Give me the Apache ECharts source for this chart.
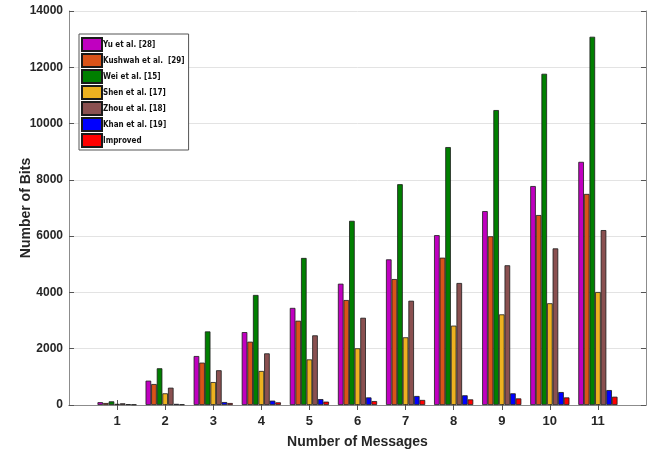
<!DOCTYPE html>
<html>
<head>
<meta charset="utf-8">
<script src="https://cdn.jsdelivr.net/npm/echarts@6/dist/echarts.min.js"></script>
<style>html,body{margin:0;padding:0;background:#fff}#c{width:656px;height:457px}</style>
</head>
<body>
<div id="c"></div>
<script>
const categories = ['1','2','3','4','5','6','7','8','9','10','11'];
const yTicks = [0, 2000, 4000, 6000, 8000, 10000, 12000, 14000];
const seriesNames = ['Yu et al. [28]', 'Kushwah et al.  [29]', 'Wei et al. [15]', 'Shen et al. [17]', 'Zhou et al. [18]', 'Khan et al. [19]', 'Improved'];
const yu       = [100, 865, 1740, 2590, 3450, 4310, 5175, 6035, 6890, 7780, 8640];
const kushwah  = [70, 745, 1505, 2250, 2995, 3730, 4475, 5235, 5995, 6750, 7500];
const wei      = [130, 1305, 2615, 3910, 5225, 6545, 7845, 9165, 10480, 11770, 13085];
const shen     = [40, 415, 815, 1210, 1620, 2015, 2405, 2820, 3220, 3615, 4015];
const zhou     = [60, 615, 1235, 1835, 2475, 3100, 3705, 4335, 4965, 5565, 6215];
const khan     = [30, 40, 105, 155, 210, 270, 320, 345, 415, 460, 530];
const improved = [20, 25, 70, 95, 120, 140, 180, 200, 235, 270, 295];

const colors = ['#c000c0', '#d95319', '#007f00', '#edb120', '#8a5050', '#0000ff', '#ff0000'];
const allData = [yu, kushwah, wei, shen, zhou, khan, improved];

const axisCats = [''].concat(categories, ['']);
const pad = arr => [null].concat(arr, [null]);
const font = '"Liberation Sans", Arial, sans-serif';
const condFont = '"DejaVu Sans Condensed", "Liberation Sans", Arial, sans-serif';

const chart = echarts.init(document.getElementById('c'));
const axisLineStyle = {color: '#8c8c8c', width: 1};
chart.setOption({
  animation: false,
  grid: {left: 69, right: 10, top: 11, bottom: 52, containLabel: false, outerBoundsMode: 'none'},
  legend: {
    orient: 'vertical', left: 79, top: 34,
    icon: 'rect',
    itemWidth: 20, itemHeight: 13, itemGap: 1,
    padding: [3, 4, 2, 2],
    borderColor: '#555', borderWidth: 1, backgroundColor: '#fff',
    textStyle: {fontFamily: condFont, fontSize: 8, fontWeight: 'bold', color: '#111', padding: [0,0,0,-4]},
    data: seriesNames
  },
  xAxis: [{
    type: 'category', data: axisCats, boundaryGap: false, position: 'bottom',
    axisLine: {lineStyle: axisLineStyle},
    axisTick: {inside: true, length: 5, lineStyle: {color: '#555'}, interval: i => i > 0 && i < axisCats.length - 1},
    axisLabel: {fontFamily: font, fontSize: 13, fontWeight: 'bold', color: '#262626', margin: 10,
      interval: i => i > 0 && i < axisCats.length - 1},
    name: 'Number of Messages', nameLocation: 'middle', nameGap: 30, nameMoveOverlap: false,
    nameTextStyle: {fontFamily: font, fontSize: 14, fontWeight: 'bold', color: '#262626'},
    splitLine: {show: false}
  }, {
    type: 'category', data: axisCats, boundaryGap: false, position: 'top',
    axisLine: {lineStyle: axisLineStyle},
    axisTick: {inside: true, length: 5, lineStyle: {color: '#555'}, interval: i => i > 0 && i < axisCats.length - 1},
    axisLabel: {show: false}, splitLine: {show: false}
  }],
  yAxis: [{
    type: 'value', min: 0, max: 14000, interval: 2000, position: 'left',
    axisLine: {show: true, lineStyle: axisLineStyle},
    axisTick: {show: true, inside: true, length: 5, lineStyle: {color: '#555'}},
    axisLabel: {fontFamily: font, fontSize: 12, fontWeight: 'bold', color: '#262626', margin: 6,
      formatter: v => yTicks.indexOf(v) >= 0 ? String(v) : ''},
    splitLine: {show: true, lineStyle: {color: '#e3e3e3', width: 1}},
    name: 'Number of Bits', nameLocation: 'middle', nameGap: 36, nameMoveOverlap: false,
    nameTextStyle: {fontFamily: font, fontSize: 14, fontWeight: 'bold', color: '#262626'}
  }, {
    type: 'value', min: 0, max: 14000, interval: 2000, position: 'right',
    axisLine: {show: true, lineStyle: axisLineStyle},
    axisTick: {show: true, inside: true, length: 5, lineStyle: {color: '#555'}},
    axisLabel: {show: false}, splitLine: {show: false}
  }],
  series: seriesNames.map((n, i) => ({
    name: n, type: 'bar', xAxisIndex: 0, yAxisIndex: 0,
    data: pad(allData[i]),
    barWidth: 5.6, barGap: '0%',
    itemStyle: {color: colors[i], borderColor: '#1a1a1a', borderWidth: 0.8}
  }))
});
</script>
</body>
</html>
